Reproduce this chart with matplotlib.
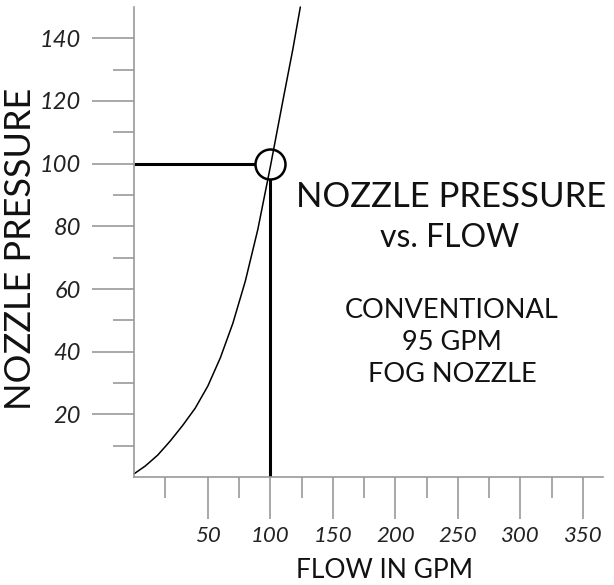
import matplotlib
matplotlib.use("Agg")
import matplotlib.pyplot as plt

# Data
flow = [-9, 0, 10, 20, 30, 40, 50, 60, 70, 80, 90, 100, 110, 118, 124]
pressure = [1, 3.5, 7, 11.5, 16.5, 22, 29, 38, 49, 62.5, 79, 99, 120, 136.5, 150]

y_major = [20, 40, 60, 80, 100, 120, 140]
y_minor = [10, 30, 50, 70, 90, 110, 130]
x_major = [50, 100, 150, 200, 250, 300, 350]
x_minor = [16, 75, 125, 175, 225, 275, 325]

op_flow = 100
op_pressure = 100

title_lines = ["NOZZLE PRESSURE", "vs. FLOW"]
sub_lines = ["CONVENTIONAL", "95 GPM", "FOG NOZZLE"]

W, H = 614, 585
fig = plt.figure(figsize=(W / 100, H / 100), dpi=100)
L, R, T, B = 134, 603, 7, 477
ax = fig.add_axes([L / W, 1 - B / H, (R - L) / W, (B - T) / H])
ax.set_xlim(-9, 366)
ax.set_ylim(0, 150)

font = "Lato"
grey = "#9a9a9a"

for s in ["top", "right"]:
    ax.spines[s].set_visible(False)
for s in ["left", "bottom"]:
    ax.spines[s].set_color(grey)
    ax.spines[s].set_linewidth(1.2)

ax.set_yticks(y_major)
ax.set_yticks(y_minor, minor=True)
ax.set_xticks(x_major)
ax.set_xticks(x_minor, minor=True)
ax.tick_params(axis="y", which="major", length=30, width=1.2, color=grey, pad=8)
ax.tick_params(axis="y", which="minor", length=15, width=1.2, color=grey)
ax.tick_params(axis="x", which="major", length=30, width=1.2, color=grey, pad=5)
ax.tick_params(axis="x", which="minor", length=15, width=1.2, color=grey)
ax.set_yticklabels([str(v) for v in y_major], fontsize=17, family=font, style="italic", color="#222222")
ax.set_xticklabels([str(v) for v in x_major], fontsize=16, family=font, style="italic", color="#222222")

# curve
ax.plot(flow, pressure, color="black", lw=1.1, clip_on=False, solid_capstyle="round",
        solid_joinstyle="round")

# operating point
r_px = 15
rx = r_px / 1.25  # gpm per px
ry = r_px / 3.135
ax.plot([-9, op_flow - rx], [op_pressure, op_pressure], color="black", lw=2.2, solid_capstyle="butt")
ax.plot([op_flow, op_flow], [0, op_pressure - ry], color="black", lw=2.2, solid_capstyle="butt")
ax.plot([op_flow], [op_pressure], marker="o", markersize=2 * r_px * 0.72, markerfacecolor="none",
        markeredgecolor="black", markeredgewidth=1.8)

# texts
def fx(px):
    return px / W

def fy(py):
    return 1 - py / H

fig.text(fx(451), fy(197), title_lines[0], ha="center", va="center", fontsize=25, family=font, color="#111111")
fig.text(fx(450), fy(238), title_lines[1], ha="center", va="center", fontsize=23, family=font, color="#111111")
fig.text(fx(452), fy(310), sub_lines[0], ha="center", va="center", fontsize=19.5, family=font, color="#111111")
fig.text(fx(452), fy(343), sub_lines[1], ha="center", va="center", fontsize=19.5, family=font, color="#111111")
fig.text(fx(452), fy(375), sub_lines[2], ha="center", va="center", fontsize=19.5, family=font, color="#111111")

fig.text(fx(21), fy(249), "NOZZLE PRESSURE", rotation=90, ha="center", va="center", fontsize=26, family=font, color="#111111")
fig.text(fx(385), fy(571), "FLOW IN GPM", ha="center", va="center", fontsize=19, family=font, color="#111111")

fig.savefig("out.png", dpi=100)
